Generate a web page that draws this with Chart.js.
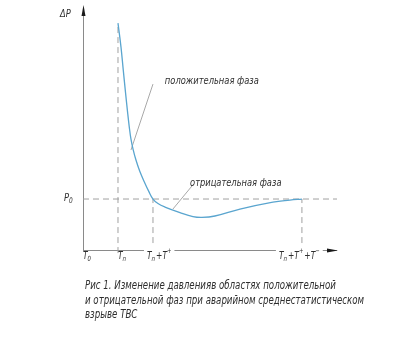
<!DOCTYPE html>
<html>
<head>
<meta charset="utf-8">
<script src="https://cdn.jsdelivr.net/npm/chart.js@4/dist/chart.umd.min.js"></script>
<style>
html, body { margin: 0; padding: 0; background: #fff; }
#wrap { width: 417px; height: 353px; }
</style>
</head>
<body>
<div id="wrap"><canvas id="c"></canvas></div>
<script>
// x: time, T0 = 0, Tп = 1 ; y: pressure, P0 = 1
const curveX = [1.0, 1.086, 1.151, 1.214, 1.274, 1.323, 1.37, 1.43, 1.514, 1.62, 1.75, 1.88, 2.0, 2.143, 2.343, 2.771, 3.143, 3.4, 3.771, 4.486, 5.429, 5.914, 6.257];
const curveY = [4.451, 3.98, 3.529, 3.098, 2.706, 2.412, 2.18, 1.98, 1.765, 1.55, 1.34, 1.15, 1.0, 0.912, 0.843, 0.735, 0.657, 0.641, 0.667, 0.804, 0.941, 0.98, 1.0];
const xMax = 7.26;
const yMax = 4.63;
const p0 = 1;
const tN = 1, tPlus = 2, tEnd = 6.257;
const xTickVals = [0, tN, tPlus, tEnd];
const xTickLabels = [
    [['T'], ['0', 'sub']],
    [['T'], ['п', 'sub']],
    [['T'], ['п', 'sub'], ['+T'], ['+', 'sup']],
    [['T'], ['п', 'sub'], ['+T'], ['+', 'sup'], ['+T'], ['−', 'sup']]
];
const phaseLabels = ['положительная фаза', 'отрицательная фаза'];
const phaseLabelPos = [[2.34, 3.33], [3.06, 1.33]];
const leaderLines = [
    [[2.0, 3.255], [1.371, 1.961]],
    [[3.114, 1.255], [2.571, 0.804]]
];
const caption = [
    'Рис 1. Изменение давленияв областях положительной',
    'и отрицательной фаз при аварийном среднестатистическом',
    'взрыве ТВС'
];

const FONT = "'Liberation Sans Narrow', 'DejaVu Sans Condensed', 'Liberation Sans', sans-serif";
const TXT = '#2e2e2e';
const GRID = '#a0a0a0';
const SQ = 0.84; // horizontal squeeze, the source font is a narrow drafting font

function pts(xs, ys) {
    let out = [];
    for (let i = 0; i < xs.length; i++) out.push({x: xs[i], y: ys[i]});
    return out;
}

function dashed(data) {
    return { data: data, borderColor: GRID, borderWidth: 1, borderDash: [6, 4], pointRadius: 0, fill: false, tension: 0, order: 5 };
}

// draws squeezed text, returns its width
function ctext(ctx, t, x, y, sq) {
    sq = sq || SQ;
    ctx.save();
    ctx.translate(x, y);
    ctx.scale(sq, 1);
    ctx.fillText(t, 0, 0);
    ctx.restore();
    return ctx.measureText(t).width * sq;
}

function richWidth(ctx, parts, size) {
    let w = 0;
    parts.forEach(p => {
        ctx.font = 'italic ' + (p[1] ? size * 0.7 : size) + 'px ' + FONT;
        w += ctx.measureText(p[0]).width * SQ + (p[1] ? 1 : 0);
    });
    return w;
}

function drawRich(ctx, parts, x, y, size) {
    parts.forEach(p => {
        let s = p[1] ? size * 0.7 : size;
        ctx.font = 'italic ' + s + 'px ' + FONT;
        let dy = p[1] == 'sub' ? 2 : (p[1] == 'sup' ? -6 : 0);
        x += ctext(ctx, p[0], x, y + dy) + (p[1] ? 1 : 0);
    });
}

const sketch = {
    id: 'sketch',
    beforeDatasetsDraw(chart) {
        const ctx = chart.ctx;
        const xs = chart.scales.x, ys = chart.scales.y;
        const x0 = xs.getPixelForValue(0), y0 = ys.getPixelForValue(0);
        const xR = xs.getPixelForValue(xMax), yT = ys.getPixelForValue(yMax);
        ctx.save();
        ctx.strokeStyle = '#8a8a8a';
        ctx.lineWidth = 1;
        ctx.beginPath();
        ctx.moveTo(x0 + 0.5, y0 + 0.5);
        ctx.lineTo(x0 + 0.5, yT);
        ctx.moveTo(x0, y0 + 0.5);
        ctx.lineTo(xR, y0 + 0.5);
        ctx.stroke();
        // arrows
        ctx.fillStyle = '#1a1a1a';
        ctx.beginPath();
        ctx.moveTo(x0 + 0.5, yT - 9);
        ctx.lineTo(x0 - 1.5, yT + 2);
        ctx.lineTo(x0 + 2.5, yT + 2);
        ctx.closePath();
        ctx.fill();
        ctx.beginPath();
        ctx.moveTo(xR + 1, y0 + 0.5);
        ctx.lineTo(xR - 10, y0 - 1.5);
        ctx.lineTo(xR - 10, y0 + 2.5);
        ctx.closePath();
        ctx.fill();
        ctx.restore();
    },
    afterDatasetsDraw(chart) {
        const ctx = chart.ctx;
        const xs = chart.scales.x, ys = chart.scales.y;
        ctx.save();
        ctx.fillStyle = TXT;
        ctx.textBaseline = 'alphabetic';
        ctx.textAlign = 'left';
        // x tick labels
        const base = ys.getPixelForValue(0) + 9;
        xTickVals.forEach((v, i) => {
            let px = xs.getPixelForValue(v);
            let w = richWidth(ctx, xTickLabels[i], 10);
            let left = i < 2 ? px : px - 6;
            if (i == 3) left = px - 23;
            if (i >= 2) {
                ctx.fillStyle = '#fff';
                ctx.fillRect(left - 3, base - 12, w + 5, 16);
                ctx.fillStyle = TXT;
            }
            drawRich(ctx, xTickLabels[i], left, base, 10);
        });
        // y labels
        drawRich(ctx, [['P'], ['0', 'sub']], xs.getPixelForValue(0) - 19, ys.getPixelForValue(p0) + 2, 11);
        ctx.font = 'italic 11px ' + FONT;
        ctext(ctx, 'ΔP', xs.getPixelForValue(0) - 23, ys.getPixelForValue(yMax) + 3);
        // phase labels
        ctx.font = 'italic 11px ' + FONT;
        phaseLabels.forEach((t, i) => {
            ctext(ctx, t, xs.getPixelForValue(phaseLabelPos[i][0]), ys.getPixelForValue(phaseLabelPos[i][1]) + 4);
        });
        // caption
        ctx.font = 'italic 11.5px ' + FONT;
        caption.forEach((t, i) => {
            ctext(ctx, t, 85, 289 + i * 14.5, 0.835);
        });
        ctx.restore();
    }
};

let datasets = [
    { data: pts(curveX, curveY), borderColor: '#5aa5cf', borderWidth: 1.3, pointRadius: 0, fill: false, tension: 0.4, order: 0 },
    dashed([{x: tN, y: -0.06}, {x: tN, y: curveY[0]}]),
    dashed([{x: tPlus, y: -0.06}, {x: tPlus, y: p0}]),
    dashed([{x: tEnd, y: -0.06}, {x: tEnd, y: p0}]),
    dashed([{x: 0, y: p0}, {x: xMax, y: p0}])
];
leaderLines.forEach(l => {
    datasets.push({ data: l.map(p => ({x: p[0], y: p[1]})), borderColor: '#a8a8a8', borderWidth: 1, pointRadius: 0, fill: false, tension: 0, order: 2 });
});

new Chart(document.getElementById('c'), {
    type: 'line',
    data: { datasets: datasets },
    options: {
        responsive: true,
        maintainAspectRatio: false,
        devicePixelRatio: 1,
        animation: false,
        layout: { padding: { left: 83, right: 80, top: 14, bottom: 103 } },
        plugins: { legend: { display: false }, tooltip: { enabled: false } },
        scales: {
            x: { type: 'linear', min: 0, max: xMax, display: false },
            y: { type: 'linear', min: 0, max: yMax, display: false }
        },
        clip: false
    },
    plugins: [sketch]
});
</script>
</body>
</html>
